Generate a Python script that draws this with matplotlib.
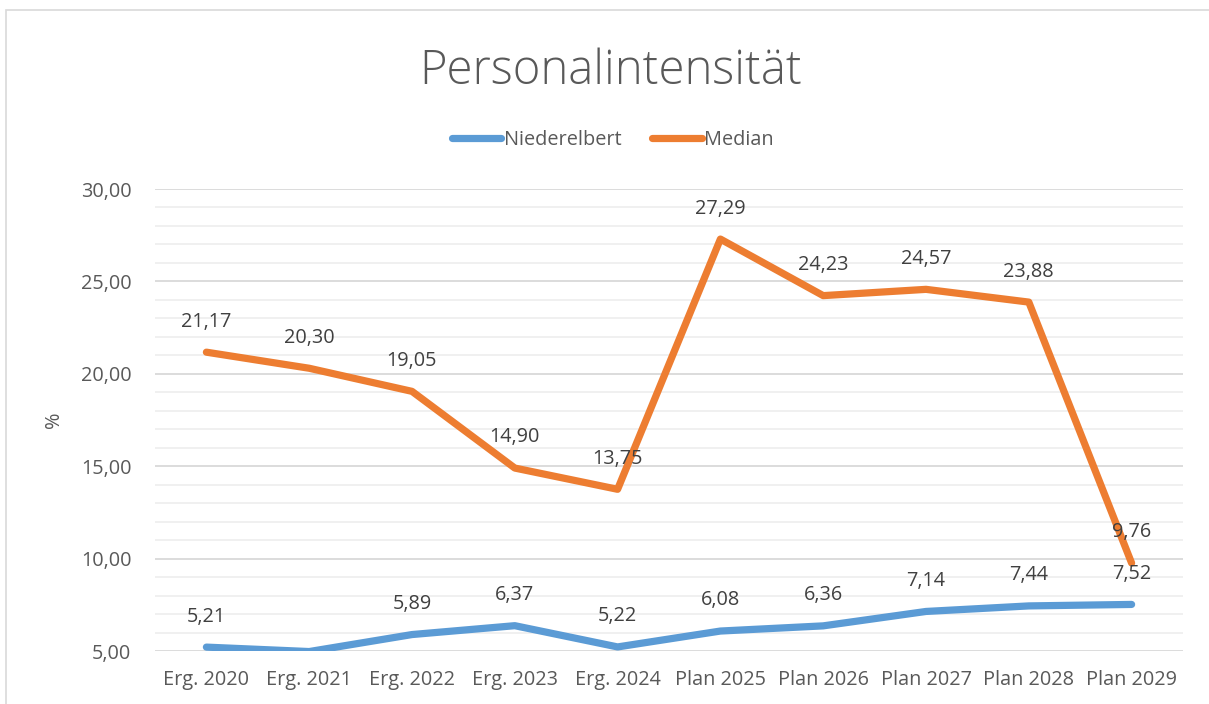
import numpy as np
import matplotlib.pyplot as plt
from matplotlib.lines import Line2D
from matplotlib.patches import Rectangle

# data
categories = ['Erg. 2020', 'Erg. 2021', 'Erg. 2022', 'Erg. 2023', 'Erg. 2024',
              'Plan 2025', 'Plan 2026', 'Plan 2027', 'Plan 2028', 'Plan 2029']
niederelbert = [5.21, 4.97, 5.89, 6.37, 5.22, 6.08, 6.36, 7.14, 7.44, 7.52]
median = [21.17, 20.30, 19.05, 14.90, 13.75, 27.29, 24.23, 24.57, 23.88, 9.76]
yticks = [5, 10, 15, 20, 25, 30]

blue = '#5B9BD5'
orange = '#ED7D31'
txt = '#595959'

plt.rcParams['font.family'] = ['Open Sans', 'DejaVu Sans']

fig = plt.figure(figsize=(12.09, 7.04), dpi=100)
ax = fig.add_axes([155/1209, 53/704, 1028/1209, 462/704])

# outer chart border
fig.patches.append(Rectangle((6/1209, -0.1), 1.2, (704-10.5)/704 + 0.1,
                             transform=fig.transFigure, fill=False,
                             edgecolor='#D9D9D9', lw=1.2))

x = np.arange(len(categories))
ax.plot(x, niederelbert, color=blue, lw=5.2, solid_capstyle='round',
        solid_joinstyle='round', zorder=3)
ax.plot(x, median, color=orange, lw=5.2, solid_capstyle='round',
        solid_joinstyle='round', zorder=3)

fs = 14.3
for xi, v in zip(x, niederelbert):
    if v >= 5:
        ax.annotate(('%.2f' % v).replace('.', ','), (xi, v), xytext=(0, 22),
                    textcoords='offset points', ha='center', va='center',
                    fontsize=fs, color='#404040', zorder=4)
for xi, v in zip(x, median):
    ax.annotate(('%.2f' % v).replace('.', ','), (xi, v), xytext=(0, 22),
                textcoords='offset points', ha='center', va='center',
                fontsize=fs, color='#404040', zorder=4)

ax.set_xlim(-0.5, len(categories) - 0.5)
ax.set_ylim(5, 30)
ax.set_yticks(yticks)
ax.set_yticklabels([('%.2f' % t).replace('.', ',') for t in yticks])
ax.set_yticks(np.arange(5, 31, 1), minor=True)
ax.set_xticks(x)
ax.set_xticklabels(categories)
ax.tick_params(axis='both', which='both', length=0, labelsize=fs,
               labelcolor=txt)
ax.tick_params(axis='y', pad=17)
ax.tick_params(axis='x', pad=14)
ax.grid(axis='y', which='major', color='#D9D9D9', lw=1.3, zorder=0)
ax.grid(axis='y', which='minor', color='#EFEFEF', lw=1.3, zorder=0)
for s in ax.spines.values():
    s.set_visible(False)
ax.set_ylabel('%', fontsize=fs, color=txt, labelpad=12)

fig.text(0.505, 1 - 72/704, 'Personalintensität', ha='center', va='center',
         fontsize=34, color=txt, fontweight=300)

handles = [Line2D([], [], color=blue, lw=5.2, solid_capstyle='round'),
           Line2D([], [], color=orange, lw=5.2, solid_capstyle='round')]
fig.legend(handles, ['Niederelbert', 'Median'], loc='center',
           bbox_to_anchor=(0.507, 1 - 140/704), ncol=2, frameon=False,
           fontsize=fs, labelcolor=txt, handlelength=2.5, handletextpad=0.15,
           columnspacing=1.5)

fig.savefig('out.png', dpi=100)
